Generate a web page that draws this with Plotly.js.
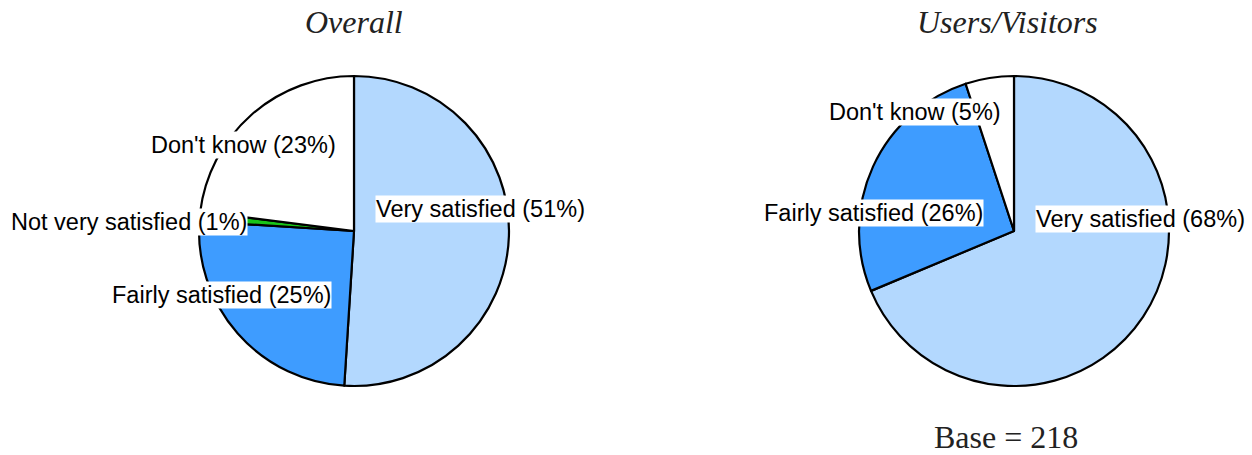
<!DOCTYPE html>
<html>
<head>
<meta charset="utf-8">
<script src="https://cdn.plot.ly/plotly-3.0.1.min.js"></script>
<style>html,body{margin:0;padding:0;background:#fff;}#chart{width:1252px;height:455px;}</style>
</head>
<body>
<div id="chart"></div>
<script>
// Data
const overallLabels = ["Very satisfied", "Fairly satisfied", "Not very satisfied", "Don't know"];
const overallValues = [51, 25, 1, 23];
const usersLabels = ["Very satisfied", "Fairly satisfied", "Don't know"];
const usersValues = [68, 26, 5];
const chartTitles = ["Overall", "Users/Visitors"];
const baseNote = "Base = 218";

const colorMap = {
  "Very satisfied": "#b3d8fe",
  "Fairly satisfied": "#3e9cff",
  "Not very satisfied": "#18c418",
  "Don't know": "#ffffff"
};

const W = 1252, H = 455;
const px = x => x / W;
const py = y => 1 - y / H;

function pieTrace(labels, values, x0, x1) {
  return {
    type: "pie",
    labels: labels,
    values: values,
    sort: false,
    direction: "clockwise",
    rotation: 0,
    textinfo: "none",
    hoverinfo: "label+percent",
    marker: { colors: labels.map(l => colorMap[l]), line: { color: "#000", width: 2.2 } },
    domain: { x: [px(x0), px(x1)], y: [py(386), py(76)] },
    showlegend: false
  };
}

const data = [
  pieTrace(overallLabels, overallValues, 199, 509),
  pieTrace(usersLabels, usersValues, 859, 1169)
];

// label placement (pixel centers) for each slice label
const overallLabelPos = [[480, 209], [221, 295], [129, 222], [243, 145]];
const usersLabelPos = [[1140, 219], [873, 213], [915, 112]];

const labelFont = { family: "Liberation Sans, Arial, sans-serif", size: 23.5, color: "#000" };
const annotations = [];
function addLabels(labels, values, pos) {
  labels.forEach((l, i) => {
    annotations.push({
      xref: "paper", yref: "paper",
      x: px(pos[i][0]), y: py(pos[i][1]),
      xanchor: "center", yanchor: "middle",
      text: l + " (" + values[i] + "%)",
      showarrow: false,
      bgcolor: "#ffffff",
      borderpad: 0,
      font: labelFont
    });
  });
}
addLabels(overallLabels, overallValues, overallLabelPos);
addLabels(usersLabels, usersValues, usersLabelPos);

const titleFont = { family: "Liberation Serif, DejaVu Serif, serif", size: 32, color: "#222" };
annotations.push({ xref: "paper", yref: "paper", x: px(354), y: py(22), xanchor: "center", yanchor: "middle",
  text: "<i>" + chartTitles[0] + "</i>", showarrow: false, font: titleFont });
annotations.push({ xref: "paper", yref: "paper", x: px(1007), y: py(22), xanchor: "center", yanchor: "middle",
  text: "<i>" + chartTitles[1] + "</i>", showarrow: false, font: titleFont });
annotations.push({ xref: "paper", yref: "paper", x: px(1006), y: py(437), xanchor: "center", yanchor: "middle",
  text: baseNote, showarrow: false, font: titleFont });

const layout = {
  width: W, height: H,
  margin: { l: 0, r: 0, t: 0, b: 0 },
  paper_bgcolor: "#ffffff",
  plot_bgcolor: "#ffffff",
  annotations: annotations
};

Plotly.newPlot("chart", data, layout, { displayModeBar: false, staticPlot: false });
</script>
</body>
</html>
